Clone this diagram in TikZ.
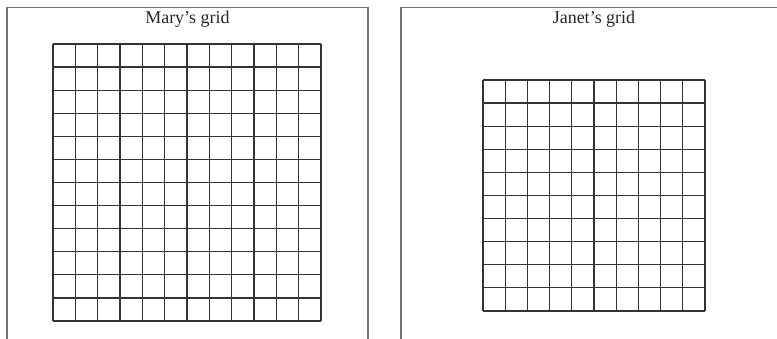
\documentclass[tikz,border=0pt]{standalone}
\usepackage{fontspec}
\setmainfont{Liberation Serif}
\usepackage{tikz}
\usetikzlibrary{positioning}

\begin{document}
\begin{tikzpicture}[
  x=1pt, y=-1pt,
  frame/.style={draw=black!55, line width=1.3pt},
  gridline/.style={draw=black!80, line width=1.2pt},
  title/.style={anchor=base, font=\fontsize{18}{20}\selectfont, text=black!85},
]
  \useasboundingbox (0,0) rectangle (777,339);
  % frames, open at the bottom
  \draw[frame] (7,339) -- (7,7.5) -- (368,7.5) -- (368,339);
  \draw[frame] (401,339) -- (401,7.5) -- (777,7.5);
  % titles
  \node[title] (mary) at (187.5,24) {Mary's grid};
  \node[title] (janet) at (594,24) {Janet's grid};
  % Mary's grid, 12 x 12
  \foreach \i in {0,...,12} {
    \draw[gridline] ({53+\i*22.333},44) -- ({53+\i*22.333},321);
    \draw[gridline] (53,{44+\i*23.083}) -- (321,{44+\i*23.083});
  }
  % Janet's grid, 10 x 10
  \foreach \i in {0,...,10} {
    \draw[gridline] ({483+\i*22.2},80) -- ({483+\i*22.2},311);
    \draw[gridline] (483,{80+\i*23.1}) -- (705,{80+\i*23.1});
  }
\end{tikzpicture}
\end{document}
